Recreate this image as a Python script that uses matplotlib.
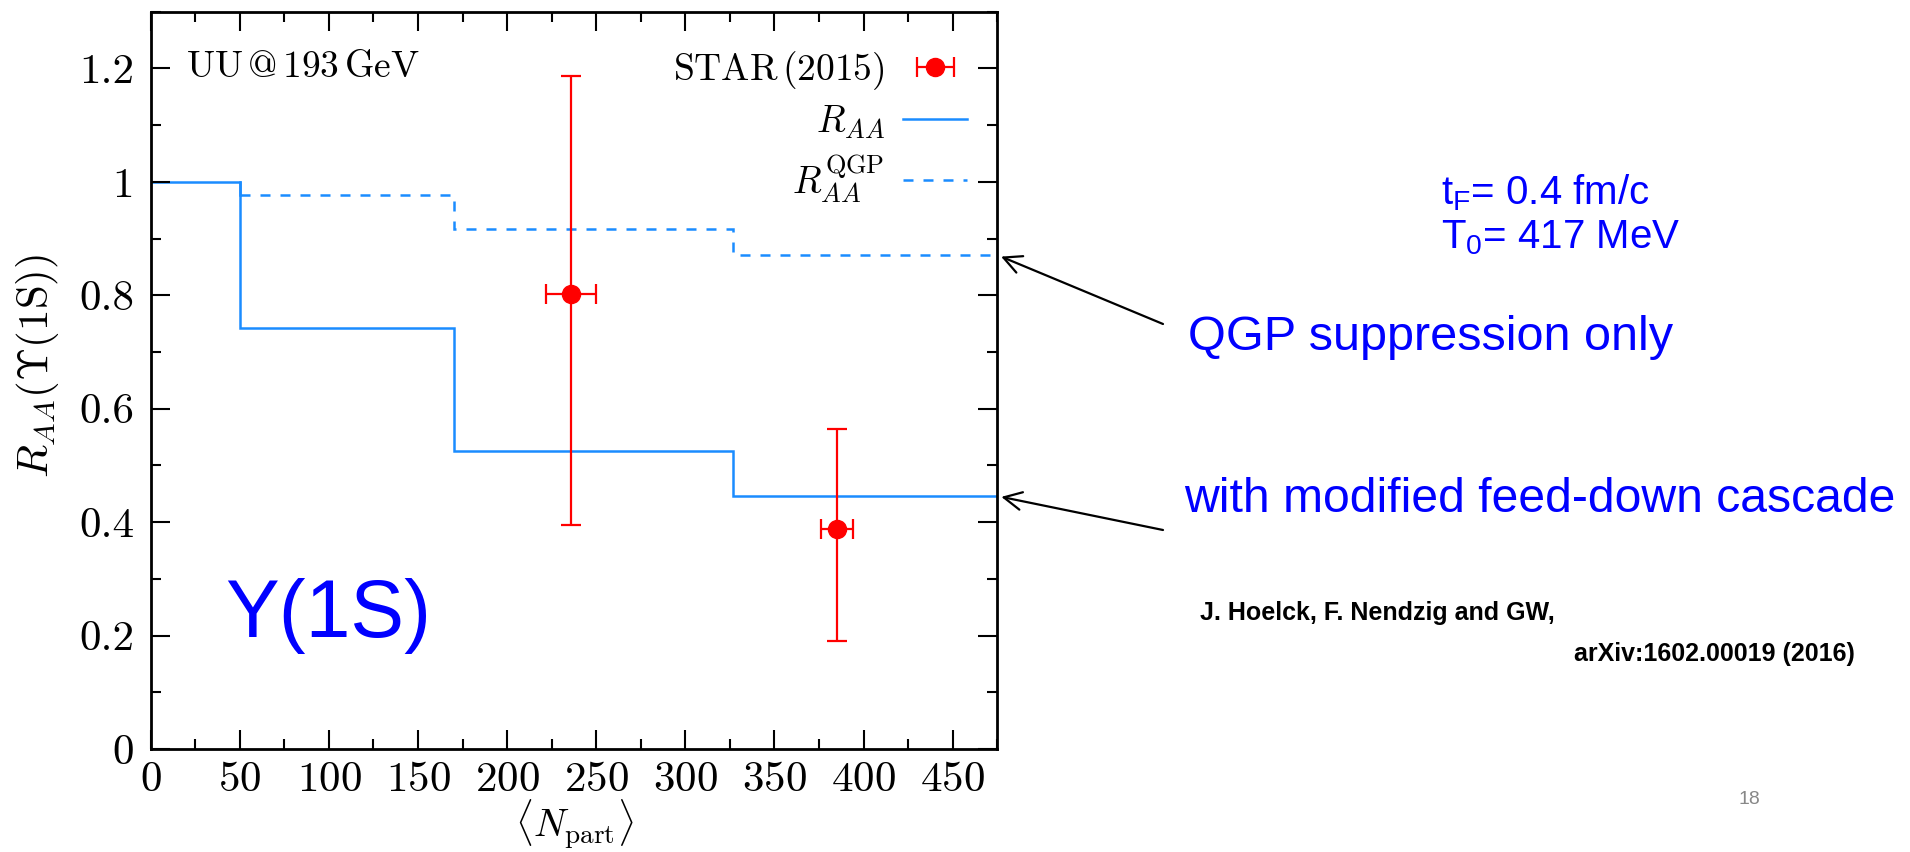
import numpy as np
import matplotlib
matplotlib.use("Agg")
import matplotlib.pyplot as plt
from matplotlib.ticker import MultipleLocator, FixedLocator, FixedFormatter

plt.rcParams['font.family'] = ['cmr10', 'DejaVu Serif']
plt.rcParams['mathtext.fontset'] = 'cm'
plt.rcParams['axes.formatter.use_mathtext'] = True

# bin edges in <N_part> and step values of the model curves
edges = [0, 50, 170, 327, 475]
raa_full = [1.0, 0.742, 0.525, 0.446]
raa_qgp = [1.0, 0.977, 0.917, 0.871]

# STAR (2015) U+U data
star_x = [236, 385]
star_y = [0.802, 0.387]
star_xerr = [14, 9]
star_yerr_lo = [0.407, 0.197]
star_yerr_hi = [0.385, 0.177]

yticks = [0, 0.2, 0.4, 0.6, 0.8, 1.0, 1.2]
ytick_labels = ['0', '0.2', '0.4', '0.6', '0.8', '1', '1.2']
xticks = [0, 50, 100, 150, 200, 250, 300, 350, 400, 450]

blue = '#1a8cff'
fs = 31
fs_in = 27
sans = 'Liberation Sans'

fig = plt.figure(figsize=(19.1, 8.52), dpi=100)
ax = fig.add_axes([0.0789, 0.1209, 0.4432, 0.8654])

# dashed first so the solid curve sits on top where they overlap
ln_qgp = ax.stairs(raa_qgp[1:], edges[1:], color=blue, lw=1.8, ls=(0, (4, 4)),
                   baseline=None)
ax.plot([edges[1], edges[1]], [raa_full[0], raa_qgp[1]], color=blue, lw=1.8)
ln_full = ax.stairs(raa_full, edges, color=blue, lw=1.8, baseline=None)

err_kw = dict(fmt='o', color='red', ms=13, lw=1.6, capsize=7, capthick=1.6)
ax.errorbar(star_x, star_y, xerr=star_xerr,
            yerr=[star_yerr_lo, star_yerr_hi], **err_kw)
# legend key shows only the horizontal bar
star_key = ax.errorbar([np.nan], [np.nan], xerr=[1], **err_kw)

ax.set_xlim(0, 475)
ax.set_ylim(0, 1.3)
ax.xaxis.set_major_locator(FixedLocator(xticks))
ax.xaxis.set_minor_locator(MultipleLocator(25))
ax.yaxis.set_major_locator(FixedLocator(yticks))
ax.yaxis.set_major_formatter(FixedFormatter(ytick_labels))
ax.yaxis.set_minor_locator(MultipleLocator(0.1))
ax.tick_params(which='both', direction='in', top=True, right=True, width=1.5)
ax.tick_params(which='major', length=14, labelsize=fs, pad=12)
ax.tick_params(axis='x', which='major', pad=9)
ax.tick_params(which='minor', length=7)
for sp in ax.spines.values():
    sp.set_linewidth(2)

ax.set_xlabel(r'$\langle N_{\mathrm{part}}\rangle$', fontsize=28, va='center')
ax.set_ylabel(r'$R_{AA}(\Upsilon(1\mathrm{S}))$', fontsize=fs, va='center')
ax.xaxis.set_label_coords(0.5, -0.102)
ax.yaxis.set_label_coords(-0.134, 0.52)

ax.text(0.042, 0.925, r'$\mathrm{UU\,@\,193\,GeV}$', transform=ax.transAxes,
        fontsize=fs_in, va='center', ha='left')

ax.legend([star_key, ln_full, ln_qgp],
          [r'$\mathrm{STAR\,(2015)}$', r'$R_{AA}$', r'$R_{AA}^{\mathrm{QGP}}$'],
          loc='upper right', bbox_to_anchor=(1.0, 0.99), markerfirst=False,
          frameon=False, fontsize=fs_in, handlelength=1.7, labelspacing=0.3,
          borderaxespad=0.4, handletextpad=0.5)

ax.text(0.088, 0.18, 'Υ(1S)', transform=ax.transAxes, fontsize=58,
        family=sans, color='blue', va='center', ha='left')

# annotations to the right of the plot
fig.text(1441 / 1910, 1 - 193 / 852, r'$\mathregular{t_F}$= 0.4 fm/c', fontsize=29,
         family=sans, color='blue', va='center')
fig.text(1441 / 1910, 1 - 238 / 852, r'$\mathregular{T_0}$= 417 MeV', fontsize=29,
         family=sans, color='blue', va='center')

fig.text(1188 / 1910, 1 - 337 / 852, 'QGP suppression only', fontsize=35,
         family=sans, color='blue', va='center', ha='left')
fig.text(1184 / 1910, 1 - 500 / 852, 'with modified feed-down cascade', fontsize=34.7,
         family=sans, color='blue', va='center', ha='left')

arrow_kw = dict(arrowstyle='->', color='black', lw=1.6, mutation_scale=32,
                shrinkA=0, shrinkB=3)
ax.annotate('', xy=(edges[-1], raa_qgp[-1]), xycoords='data',
            xytext=(1163 / 1910, 1 - 324 / 852), textcoords='figure fraction',
            arrowprops=arrow_kw, annotation_clip=False)
ax.annotate('', xy=(edges[-1], raa_full[-1]), xycoords='data',
            xytext=(1163 / 1910, 1 - 530 / 852), textcoords='figure fraction',
            arrowprops=arrow_kw, annotation_clip=False)

fig.text(1200 / 1910, 1 - 613 / 852, 'J. Hoelck, F. Nendzig and GW,', fontsize=18,
         family=sans, weight='bold', va='center')
fig.text(1855 / 1910, 1 - 654 / 852, 'arXiv:1602.00019 (2016)', fontsize=18,
         family=sans, weight='bold', va='center', ha='right')
fig.text(1749 / 1910, 1 - 800 / 852, '18', fontsize=14, family=sans,
         color='#888888', va='center', ha='center')

fig.savefig('out.png', dpi=100)
